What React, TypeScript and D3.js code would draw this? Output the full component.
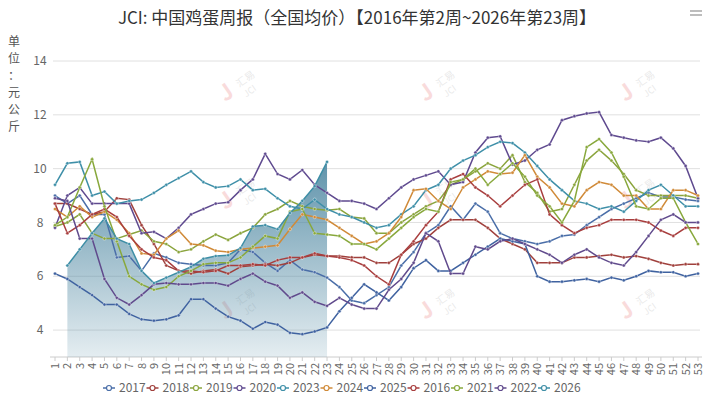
import { scaleLinear, line, area, range } from 'd3';

// weeks 1..53
const weeks = range(1, 54);
const yTicks = [4, 6, 8, 10, 12, 14];

const s2017 = [9.0,8.7,9.0,8.3,8.3,6.7,6.75,6.2,6.85,6.7,6.5,6.45,6.4,6.4,6.5,7.0,6.9,6.5,6.2,6.6,6.25,6.15,5.95,5.6,5.1,5.0,5.3,5.6,6.4,6.9,7.6,7.9,8.6,8.1,8.7,8.4,7.6,7.4,7.3,7.2,7.3,7.5,7.55,7.9,8.2,8.5,8.7,8.9,9.1,8.95,8.95,8.85,8.8];
const s2018 = [8.7,8.7,8.5,8.3,8.4,8.9,8.85,7.9,7.2,6.4,6.2,6.1,6.2,6.25,6.1,6.35,6.4,6.45,6.4,6.5,6.7,6.8,6.75,6.75,6.7,6.7,6.5,6.5,6.8,7.2,7.4,7.8,8.1,8.1,8.1,7.8,7.4,7.2,7.0,6.5,6.5,6.5,6.7,6.7,6.75,6.8,6.7,6.75,6.65,6.5,6.4,6.45,6.45];
const s2019 = [7.85,8.0,8.3,7.6,7.4,7.4,7.55,7.7,7.3,7.2,6.9,7.0,7.3,7.55,7.35,7.6,7.8,8.3,8.5,8.8,8.6,8.5,8.45,8.5,8.2,8.15,7.6,7.6,8.0,8.3,8.6,8.8,9.4,9.6,9.9,10.2,10.0,10.5,9.5,9.1,8.4,8.5,9.4,10.3,10.7,10.3,9.8,9.2,9.0,9.0,9.0,9.0,8.9];
const s2020 = [7.8,9.0,9.3,8.7,8.7,8.7,8.7,7.6,7.65,7.4,7.8,8.3,8.5,8.7,8.75,9.2,9.6,10.55,9.8,9.6,9.95,9.4,9.1,8.8,8.8,8.7,8.5,8.9,9.3,9.6,9.75,9.9,9.4,9.5,10.6,11.15,11.2,10.15,10.3,10.7,10.9,11.8,11.95,12.05,12.1,11.25,11.15,11.05,11.0,11.15,10.75,10.1,8.9];
const s2023 = [9.4,10.2,10.25,9.0,9.15,8.7,8.8,8.85,9.1,9.4,9.65,9.9,9.5,9.3,9.35,9.6,9.2,9.25,8.9,8.6,8.5,8.85,8.5,8.3,8.2,8.0,7.8,7.9,8.3,8.6,9.2,9.4,10.0,10.3,10.5,10.8,11.0,10.95,10.6,10.1,9.6,9.2,8.8,8.7,8.5,8.6,8.4,8.8,9.2,9.4,9.0,8.6,8.6];
const s2024 = [8.5,8.2,8.6,8.2,8.4,8.1,7.6,6.85,6.8,7.4,7.7,7.2,7.15,6.95,6.9,7.0,7.05,7.1,7.15,7.75,8.3,8.2,8.1,7.8,7.5,7.2,7.3,7.6,8.2,9.2,9.25,8.8,8.5,9.3,9.6,9.9,9.8,9.85,10.5,9.7,9.3,8.7,8.6,9.2,9.5,9.4,9.0,9.0,8.5,8.5,9.2,9.2,9.0];
const s2025 = [6.1,5.9,5.6,5.3,4.95,4.95,4.6,4.4,4.35,4.4,4.55,5.15,5.15,4.8,4.5,4.35,4.05,4.3,4.2,3.9,3.85,3.95,4.1,4.7,5.2,5.7,5.4,5.1,5.6,6.3,6.6,6.2,6.2,6.5,6.8,7.1,7.4,7.3,7.2,6.0,5.8,5.8,5.85,5.9,5.8,5.95,5.85,6.0,6.2,6.15,6.15,6.0,6.1];
const s2016 = [8.7,7.6,7.9,8.3,8.5,8.2,7.5,7.0,6.7,6.6,6.2,6.2,6.15,6.2,6.4,6.4,6.45,6.4,6.6,6.7,6.7,6.85,6.75,6.7,6.6,6.4,6.0,5.7,6.8,7.3,7.9,8.4,9.6,9.8,9.3,9.0,8.6,9.0,9.4,9.6,8.3,7.9,7.6,7.8,7.9,8.1,8.1,8.1,8.0,7.7,7.5,7.8,7.8];
const s2021 = [7.9,8.2,9.3,10.35,8.6,7.3,6.0,5.7,5.5,5.6,6.0,6.2,6.45,6.5,6.5,6.7,7.1,7.5,7.4,8.4,8.5,7.6,7.55,7.5,7.2,7.2,7.0,7.4,7.8,8.2,8.5,8.4,9.5,9.6,10.0,9.4,9.8,10.2,9.7,9.0,8.6,8.0,8.8,10.8,11.1,10.6,9.7,8.6,8.5,8.9,8.9,8.0,7.2];
const s2022 = [8.9,8.8,7.4,7.4,5.9,5.2,4.95,5.3,5.7,5.75,5.7,5.7,5.75,5.75,5.65,5.9,6.1,5.8,5.65,5.2,5.4,5.05,4.9,5.2,4.95,4.8,4.8,5.5,5.9,6.5,7.6,7.3,6.1,6.1,7.1,7.0,7.3,7.4,7.2,7.0,6.8,6.5,6.8,7.0,6.7,6.5,6.4,6.9,7.5,8.1,8.3,8.0,8.0];
const s2026 = [null,6.4,7.0,7.6,8.15,7.4,7.2,6.2,5.75,5.95,6.15,6.35,6.65,6.75,6.78,7.05,7.85,7.9,7.75,8.35,8.8,9.35,10.25];

const series: { name: string; color: string; values: (number | null)[] }[] = [
  { name: '2017', color: '#4a6ea8', values: s2017 },
  { name: '2018', color: '#a0403c', values: s2018 },
  { name: '2019', color: '#8aa43c', values: s2019 },
  { name: '2020', color: '#5f4a8f', values: s2020 },
  { name: '2023', color: '#3e8fa8', values: s2023 },
  { name: '2024', color: '#d08a38', values: s2024 },
  { name: '2025', color: '#3f62a0', values: s2025 },
  { name: '2016', color: '#a83e3e', values: s2016 },
  { name: '2021', color: '#88a83c', values: s2021 },
  { name: '2022', color: '#604a8c', values: s2022 },
  { name: '2026', color: '#3e8ea6', values: s2026 },
];

const W = 714, H = 406;
const font = '"Noto Sans CJK SC", "Noto Sans", sans-serif';

export default function App() {
  const x = scaleLinear().domain([1, 53]).range([55, 698]);
  const y = scaleLinear().domain([3, 14]).range([357, 61]);
  type P = { w: number; v: number | null };
  const ln = line<P>().defined((d) => d.v != null).x((d) => x(d.w)).y((d) => y(d.v as number));
  const ar = area<P>().defined((d) => d.v != null).x((d) => x(d.w)).y0(y(3)).y1((d) => y(d.v as number));
  const pts = (vals: (number | null)[]) => vals.map((v, i) => ({ w: weeks[i], v }));
  const last = series[series.length - 1];

  return (
    <div style={{ margin: -8 }}>
      <svg width={W} height={H} style={{ display: 'block', fontFamily: font }}>
        <defs>
          <linearGradient id="g26" x1="0" y1="0" x2="0" y2="1">
            <stop offset="0" stopColor="#4f88a2" stopOpacity={0.9} />
            <stop offset="1" stopColor="#4f88a2" stopOpacity={0.15} />
          </linearGradient>
        </defs>
        <rect x={1.5} y={1.5} width={W - 3} height={H - 3} rx={4} fill="#fff" stroke="#2f8fa0" strokeWidth={2} />
        <text x={357} y={24} textAnchor="middle" fontSize={17} fill="#333">JCI: 中国鸡蛋周报（全国均价）【2016年第2周~2026年第23周】</text>
        <g stroke="#999" strokeWidth={1.3}>
          {[7, 11, 15].map((yy) => <line key={yy} x1={690} x2={702} y1={yy} y2={yy} />)}
        </g>
        {'单位：元公斤'.split('').map((c, i) => (
          <text key={i} x={14} y={46 + i * 17} fontSize={12} fill="#555" textAnchor="middle">{c}</text>
        ))}
        {/* watermarks */}
        {[[240, 92], [440, 92], [640, 92], [240, 200], [440, 200], [640, 200], [240, 310], [440, 310], [640, 310]].map(([wx, wy], i) => (
          <g key={i} transform={`translate(${wx},${wy}) rotate(-35)`} opacity={0.18}>
            <text x={-18} y={0} fontSize={22} fontWeight={700} fill="#e04040">J</text>
            <text x={2} y={-4} fontSize={10} fill="#888">汇易</text>
            <text x={2} y={8} fontSize={9} fill="#888">JCI</text>
          </g>
        ))}
        {yTicks.map((t) => (
          <g key={t}>
            <line x1={53} x2={700} y1={y(t)} y2={y(t)} stroke="#e0e0e0" strokeWidth={1} />
            <text x={40} y={y(t)} dy="0.35em" textAnchor="middle" fontSize={12} fill="#666">{t}</text>
          </g>
        ))}
        <line x1={50} x2={702} y1={y(3)} y2={y(3)} stroke="#ccc" />
        {weeks.map((w) => (
          <g key={w}>
            <line x1={x(w)} x2={x(w)} y1={y(3)} y2={y(3) + 4} stroke="#ccc" />
            <text transform={`translate(${x(w) + 4},${y(3) + 6}) rotate(-90)`} textAnchor="end" fontSize={11} fill="#666">{w}</text>
          </g>
        ))}
        <path d={ar(pts(last.values)) ?? undefined} fill="url(#g26)" />
        {series.map((s) => (
          <g key={s.name}>
            <path d={ln(pts(s.values)) ?? undefined} fill="none" stroke={s.color} strokeWidth={1.5} />
            {s.values.map((v, i) => v == null ? null : (
              <circle key={i} cx={x(weeks[i])} cy={y(v)} r={1.6} fill={s.color} stroke="#fff" strokeWidth={0.4} />
            ))}
          </g>
        ))}
        {series.map((s, i) => {
          const lx = 103 + i * 43.5;
          return (
            <g key={s.name}>
              <line x1={lx} x2={lx + 12} y1={388} y2={388} stroke={s.color} strokeWidth={1.5} />
              <circle cx={lx + 6} cy={388} r={2.5} fill="#fff" stroke={s.color} strokeWidth={1.2} />
              <text x={lx + 16} y={388} dy="0.35em" fontSize={12} fill="#666">{s.name}</text>
            </g>
          );
        })}
      </svg>
    </div>
  );
}
